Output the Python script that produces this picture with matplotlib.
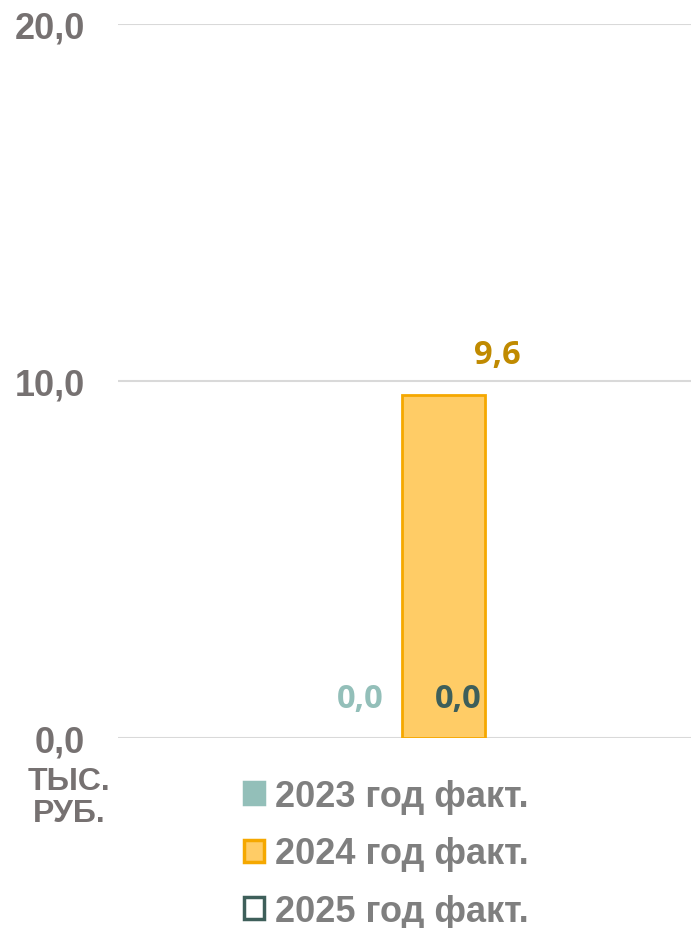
import matplotlib
matplotlib.use("Agg")
import matplotlib.pyplot as plt
from matplotlib.patches import Patch

series = ["2023 год факт.", "2024 год факт.", "2025 год факт."]
values = [0.0, 9.6, 0.0]
labels = ["0,0", "9,6", "0,0"]
yticks = [0, 10, 20]
ytick_labels = ["0,0", "10,0", "20,0"]
unit_label = "ТЫС.\nРУБ."

fills = ["#93BFB9", "#FFCC66", "#FFFFFF"]
edges = ["#93BFB9", "#F5A800", "#3E5F5A"]
label_colors = ["#93BFB9", "#C08A00", "#3E5F5A"]

W, H = 691, 929
fig = plt.figure(figsize=(W / 100, H / 100), dpi=100)
ax = fig.add_axes([118 / W, 1 - 739 / H, (691 - 118) / W, (739 - 25) / H])

xs = [-1, 0, 1]
for x, v, f, e in zip(xs, values, fills, edges):
    ax.bar(x, v, width=1.0, color=f, edgecolor=e, linewidth=2 if v > 0 else 0, zorder=3)

ax.set_xlim(-3.916, 2.988)
ax.set_ylim(0, 20)
ax.set_yticks(yticks)
ax.set_yticklabels(ytick_labels, fontfamily="Liberation Sans", fontweight="bold",
                   fontsize=26, color="#767171")
ax.tick_params(axis="y", length=0, pad=24)
ax.set_xticks([])
for s in ax.spines.values():
    s.set_visible(False)
ax.grid(axis="y", color="#D9D9D9", linewidth=1.5, zorder=0)
ax.set_axisbelow(True)

# data labels (positions as placed in the source chart)
label_pos = [(-1.0, 1.1), (0.65, 10.75), (0.18, 1.1)]
for (lx, ly), t, c in zip(label_pos, labels, label_colors):
    ax.text(lx, ly, t, ha="center", va="center", fontfamily="Open Sans",
            fontweight="bold", fontsize=23.5, color=c, zorder=5)

fig.text(69 / W, 1 - 798 / H, unit_label, ha="center", va="center",
         fontfamily="Liberation Sans", fontweight="bold", fontsize=23,
         color="#767171", linespacing=1.1)

handles = [Patch(facecolor=f, edgecolor=e, linewidth=2.5) for f, e in zip(fills, edges)]
leg = fig.legend(handles, series, loc="center", bbox_to_anchor=(386 / W, 1 - 855 / H),
                 frameon=False, prop={"family": "Liberation Sans", "weight": "bold", "size": 26},
                 handlelength=0.56, handleheight=0.56, handletextpad=0.3, labelspacing=0.62,
                 borderpad=0, borderaxespad=0)
for t in leg.get_texts():
    t.set_color("#7F7F7F")

fig.savefig("out.png", dpi=100)
